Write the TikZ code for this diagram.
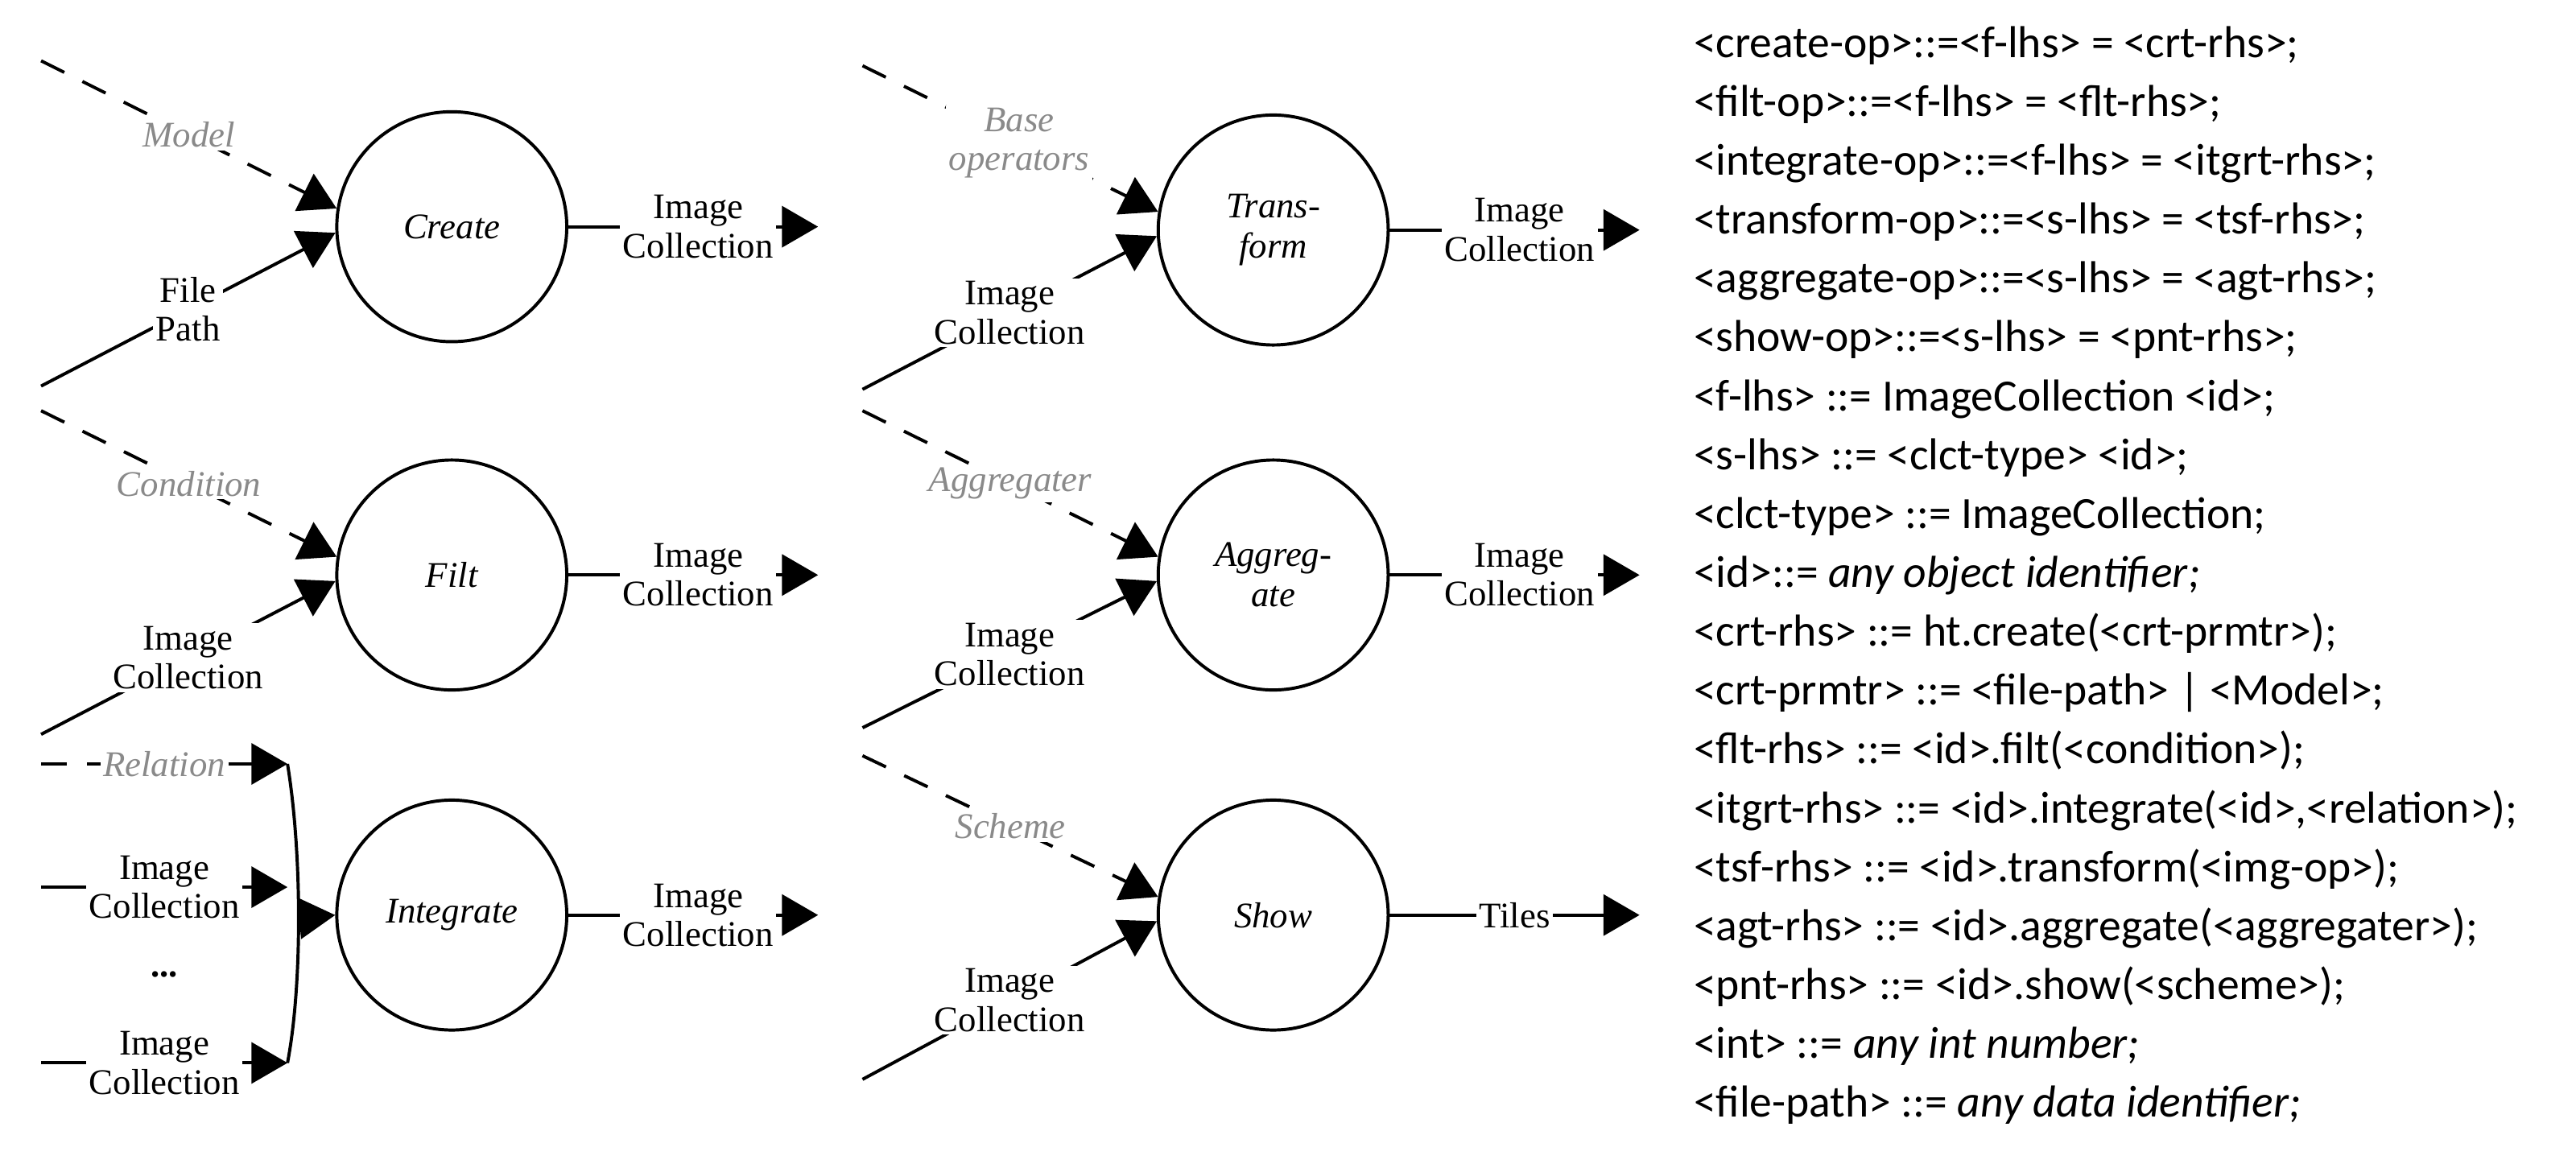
\documentclass[tikz,border=0pt]{standalone}
\usepackage{fontspec}
\setmainfont{Liberation Serif}
\newfontfamily\gramfont{Carlito}
\usepackage{xcolor}
\usetikzlibrary{positioning,arrows.meta}
\definecolor{lblgray}{HTML}{8A8A8A}

\begin{document}
\begin{tikzpicture}[x=0.02cm, y=-0.02cm, line width=1.1pt,
	>={Triangle[length=0.44cm,width=0.5cm]},
	op/.style={circle, draw, minimum size=2.8cm, inner sep=0pt, font=\fontsize{12.5}{14}\selectfont\itshape, align=center},
	lbl/.style={fill=white, inner sep=1pt, align=center, font=\fontsize{12.5}{13.5}\selectfont},
	par/.style={lbl, text=lblgray, font=\fontsize{12.5}{13.5}\selectfont\itshape},
	dashin/.style={->, dash pattern=on 9pt off 7pt}]
		\useasboundingbox (0,0) rectangle (1568,706);

		\node[op] (create) at (275,138) {Create};
		\node[op] (filt) at (275,350) {Filt};
		\node[op] (integ) at (275,557) {Integrate};
		\node[op] (trans) at (775,140) {Trans-\\form};
		\node[op] (aggr) at (775,350) {Aggreg-\\ate};
		\node[op] (show) at (775,557) {Show};

		% free ends
		\coordinate (c1) at (25,37);  \coordinate (c2) at (25,235);
		\coordinate (f1) at (25,250); \coordinate (f2) at (25,447);
		\coordinate (t1) at (525,40); \coordinate (t2) at (525,237);
		\coordinate (a1) at (525,250);\coordinate (a2) at (525,443);
		\coordinate (s1) at (525,460);\coordinate (s2) at (525,657);

		\draw[dashin] (c1) -- node[par,pos=.5] {Model} (create.171);
		\draw[->] (c2) -- node[lbl,pos=.5] {File\\Path} (create.183);
		\draw[dashin] (f1) -- node[par,pos=.5] {Condition} (filt.171);
		\draw[->] (f2) -- node[lbl,pos=.5] {Image\\Collection} (filt.183);
		\draw[dashin] (t1) -- node[par,pos=.53] {Base\\operators} (trans.171);
		\draw[->] (t2) -- node[lbl,pos=.5] {Image\\Collection} (trans.183);
		\draw[dashin] (a1) -- node[par,pos=.5] {Aggregater} (aggr.171);
		\draw[->] (a2) -- node[lbl,pos=.5] {Image\\Collection} (aggr.183);
		\draw[dashin] (s1) -- node[par,pos=.5] {Scheme} (show.171);
		\draw[->] (s2) -- node[lbl,pos=.5] {Image\\Collection} (show.183);

		% integrate inputs
		\coordinate (i1) at (25,465); \coordinate (j1) at (175,465);
		\coordinate (i2) at (25,540); \coordinate (j2) at (175,540);
		\coordinate (i3) at (25,647); \coordinate (j3) at (175,647);
		\draw[dashin] (i1) -- node[par,pos=.5] {Relation} (j1);
		\draw[->] (i2) -- node[lbl,pos=.5] {Image\\Collection} (j2);
		\draw[->] (i3) -- node[lbl,pos=.5] {Image\\Collection} (j3);
		\node[lbl] (dots) at (100,593) {\textbf{...}};
		\draw (j1) .. controls (184,520) and (184,600) .. coordinate[pos=.5] (brk) (j3);
		\draw[->] (brk) -- (integ.west);

		% outputs
		\foreach \n in {create,filt,integ,trans,aggr}
			\draw[->] (\n.east) -- node[lbl,pos=.52] {Image\\Collection} ++(152,0);
		\draw[->] (show.east) -- node[lbl,pos=.5] {Tiles} ++(152,0);

		\node[anchor=north west, align=left, inner sep=0pt,
			font=\gramfont\fontsize{15.5}{20.4}\selectfont] (grammar) at (1030,15) {%
<create-op>::=<f-lhs> = <crt-rhs>;\\
<filt-op>::=<f-lhs> = <flt-rhs>;\\
<integrate-op>::=<f-lhs> = <itgrt-rhs>;\\
<transform-op>::=<s-lhs> = <tsf-rhs>;\\
<aggregate-op>::=<s-lhs> = <agt-rhs>;\\
<show-op>::=<s-lhs> = <pnt-rhs>;\\
<f-lhs> ::= ImageCollection <id>;\\
<s-lhs> ::= <clct-type> <id>;\\
<clct-type> ::= ImageCollection;\\
<id>::= \textit{any object identifier;}\\
<crt-rhs> ::= ht.create(<crt-prmtr>);\\
<crt-prmtr> ::= <file-path> | <Model>;\\
<flt-rhs> ::= <id>.filt(<condition>);\\
<itgrt-rhs> ::= <id>.integrate(<id>,<relation>);\\
<tsf-rhs> ::= <id>.transform(<img-op>);\\
<agt-rhs> ::= <id>.aggregate(<aggregater>);\\
<pnt-rhs> ::= <id>.show(<scheme>);\\
<int> ::= \textit{any int number;}\\
<file-path> ::= \textit{any data identifier;}};
	\end{tikzpicture}
\end{document}
